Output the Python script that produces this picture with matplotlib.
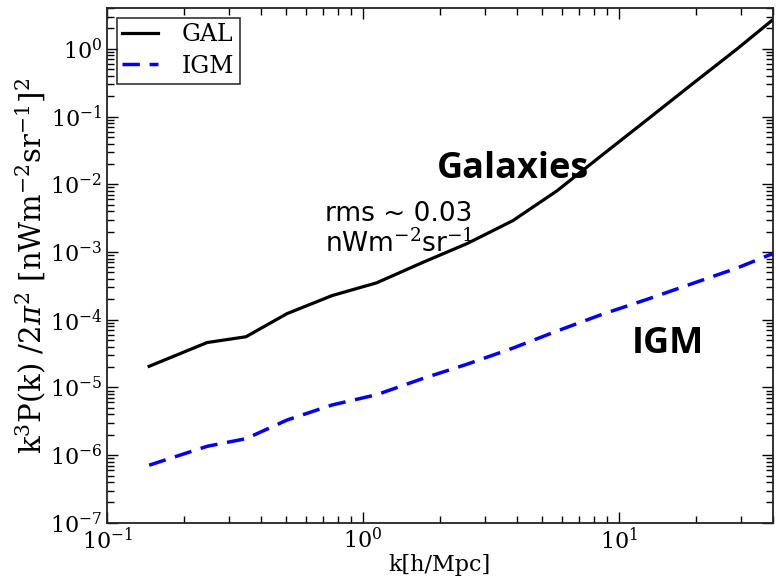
import numpy as np
import matplotlib
matplotlib.use("Agg")
import matplotlib.pyplot as plt

# k bins [h/Mpc]
k = [0.146, 0.246, 0.349, 0.505, 0.757, 1.13, 1.71, 2.55, 3.85, 5.73,
     8.6, 12.9, 19.3, 29.0, 40.0]
# k^3 P(k) / 2pi^2
gal = [2.05e-5, 4.6e-5, 5.6e-5, 1.23e-4, 2.27e-4, 3.5e-4, 7.0e-4, 1.33e-3,
       2.9e-3, 8.0e-3, 2.7e-2, 9.0e-2, 0.30, 1.0, 2.7]
igm = [7.1e-7, 1.35e-6, 1.75e-6, 3.3e-6, 5.5e-6, 7.8e-6, 1.35e-5, 2.2e-5,
       3.8e-5, 6.8e-5, 1.2e-4, 2.0e-4, 3.4e-4, 5.8e-4, 9.5e-4]

plt.rcParams['font.family'] = 'DejaVu Serif'
plt.rcParams['mathtext.fontset'] = 'dejavuserif'

fig = plt.figure(figsize=(7.76, 5.79), dpi=100)
ax = fig.add_axes([0.138, 0.097, 0.858, 0.889])

ax.loglog(k, gal, color='black', lw=2.3, label='GAL')
ax.loglog(k, igm, color='blue', lw=2.5, ls=(0, (5, 2.8)), label='IGM')

ax.set_xlim(0.1, 40)
ax.set_ylim(1e-7, 4)

ax.set_xlabel('k[h/Mpc]', fontsize=16, labelpad=0)
ax.set_ylabel(r'k$^3$P(k) /2$\pi^2$ [nWm$^{-2}$sr$^{-1}$]$^2$', fontsize=21, labelpad=1)

ax.tick_params(which='both', direction='in', top=True, right=True, labelsize=16)
ax.tick_params(which='major', length=8, width=1)
ax.tick_params(which='minor', length=5, width=1)
for s in ax.spines.values():
    s.set_linewidth(1.3)
    s.set_color('#222222')

ax.text(0.495, 0.67, 'Galaxies', transform=ax.transAxes, fontsize=26,
        fontweight='bold', family='Open Sans')
ax.text(0.788, 0.33, 'IGM', transform=ax.transAxes, fontsize=26,
        fontweight='bold', family='Open Sans')
ax.text(0.327, 0.586, 'rms ~ 0.03', transform=ax.transAxes,
        fontsize=19, family='DejaVu Sans', va='baseline')
ax.text(0.327, 0.526, 'nWm$^{-2}$sr$^{-1}$', transform=ax.transAxes,
        fontsize=19, family='DejaVu Sans', va='baseline')

leg = ax.legend(loc='upper left', fontsize=17, fancybox=False, handlelength=1.5,
                handletextpad=1.0, borderaxespad=0.4, borderpad=0.25,
                labelspacing=0.35, frameon=True)
leg.get_frame().set_edgecolor('black')
leg.get_frame().set_linewidth(1.2)

fig.savefig('out.png', dpi=100)
